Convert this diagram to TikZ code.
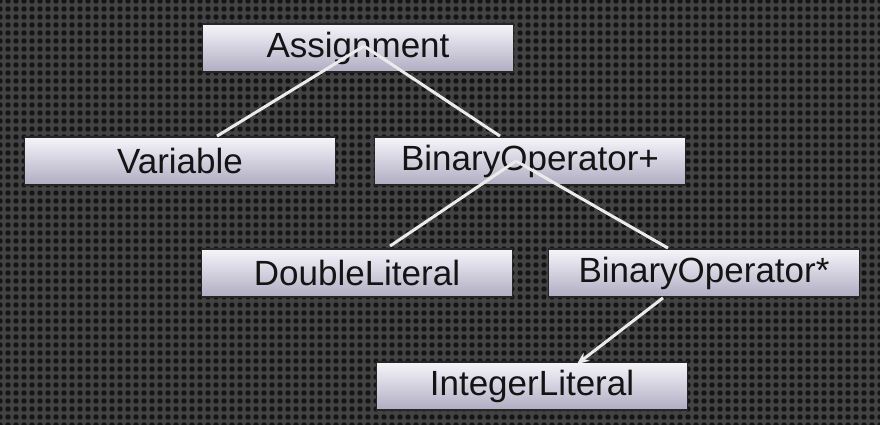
\documentclass[tikz,border=0pt]{standalone}
\usepackage{fontspec}
\setmainfont{Liberation Sans}
\usepackage{tikz}
\usetikzlibrary{arrows.meta,patterns.meta,calc}

\definecolor{bgmesh}{RGB}{66,66,66}
\definecolor{bghole}{RGB}{20,20,20}
\definecolor{boxtop}{RGB}{246,245,250}
\definecolor{boxbot}{RGB}{176,172,194}

\tikzset{
  astbox/.style={draw=black!85,line width=1.8pt,top color=boxtop,bottom color=boxbot,
    minimum width=311pt,minimum height=48pt,inner sep=0pt,
    font=\fontsize{35}{40}\selectfont,text=black!92},
  link/.style={draw=white!92!black,line width=3pt},
}

\begin{document}
\begin{tikzpicture}[x=1pt,y=-1pt]

  % background
  \useasboundingbox (0,0) rectangle (880,425);
  \fill[bgmesh] (0,0) rectangle (880,425);
  \fill[pattern={Dots[distance=8pt,radius=2.7pt]},pattern color=bghole] (0,0) rectangle (880,425);

  % tree nodes
  \node[astbox] (asg)    at (358,48)  {Assignment};
  \node[astbox] (var)    at (180,161) {Variable};
  \node[astbox] (binadd) at (530,161) {BinaryOperator+};
  \node[astbox] (dbl)    at (357,273) {DoubleLiteral};
  \node[astbox] (binmul) at (704,273) {BinaryOperator*};
  \node[astbox] (intlit) at (532,386) {IntegerLiteral};

  % links (drawn over the boxes)
  \draw[link] ([xshift=6pt,yshift=2pt]asg.center) -- ([xshift=37pt]var.north);
  \draw[link] ([xshift=6pt,yshift=2pt]asg.center) -- ([xshift=-30pt]binadd.north);
  \draw[link] ([xshift=-14pt]binadd.center) -- ([xshift=33pt,yshift=2pt]dbl.north);
  \draw[link] ([xshift=-14pt]binadd.center) -- ([xshift=-36pt]binmul.north);
  \draw[link,-{Stealth[length=12pt,width=10pt]}] ([xshift=-41pt]binmul.south) -- ([xshift=45pt,yshift=-3pt]intlit.north);

\end{tikzpicture}
\end{document}
